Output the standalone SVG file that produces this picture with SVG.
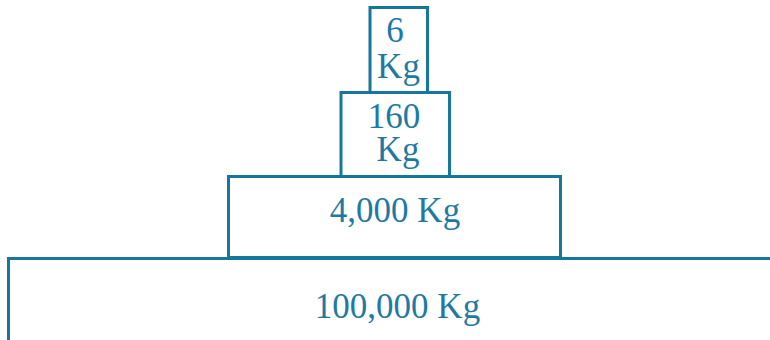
<svg xmlns="http://www.w3.org/2000/svg" width="770" height="340" viewBox="0 0 770 340">
<style>
.box{fill:#fff;stroke:#16769c;stroke-width:3}
.t{font-family:"Liberation Serif","Times New Roman",serif;font-size:35px;fill:#1f7aa3;text-anchor:middle}
</style>
<rect width="770" height="340" fill="#fff"/>
<g id="connectors"></g>
<g id="n100000">
<path class="box" d="M8.5,342 V258.5 H772"/>
<text class="t" x="397.5" y="318">100,000 Kg</text>
</g>
<g id="n4000">
<rect class="box" x="228.5" y="176.5" width="332" height="81"/>
<text class="t" x="395" y="222">4,000 Kg</text>
</g>
<g id="n160">
<rect class="box" x="341" y="92.5" width="108.5" height="84"/>
<text class="t" x="394" y="128">160</text>
<text class="t" x="398" y="161">Kg</text>
</g>
<g id="n6">
<rect class="box" x="370" y="7.5" width="57.5" height="85"/>
<text class="t" x="395" y="42">6</text>
<text class="t" x="398.5" y="77.5">Kg</text>
</g>
</svg>
